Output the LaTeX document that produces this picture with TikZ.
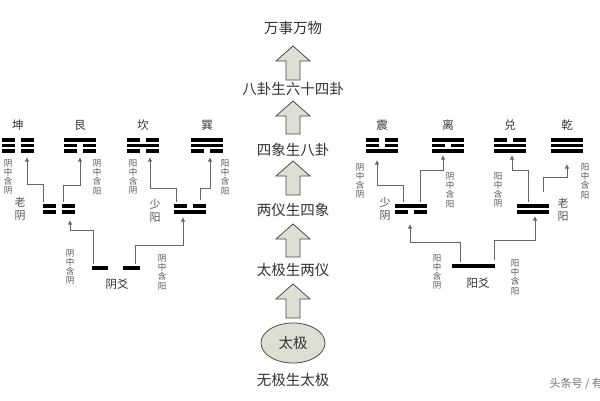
\documentclass[tikz,border=0pt]{standalone}
\usepackage{fontspec}
\newfontfamily\cjk{Noto Sans CJK SC}
\usetikzlibrary{arrows.meta,shapes.geometric}
\definecolor{arrfill}{HTML}{DEDED2}
\definecolor{ink}{HTML}{333333}
\tikzset{
 title/.style={font=\cjk\fontsize{14.5}{14.5}\selectfont,text=ink,inner sep=1pt},
 gname/.style={font=\cjk\fontsize{11.5}{11.5}\selectfont,text=ink,inner sep=1pt},
 vlab/.style={font=\cjk\fontsize{8.5}{9.3}\selectfont,text=ink!85,align=center,inner sep=0pt},
 conn/.style={draw=black!60,line width=1pt,-{Latex[length=4.5pt,width=4.5pt]}},
 bigarr/.style={draw=black!70,fill=arrfill,line width=0.8pt,line join=miter},
 yao/.style={line width=3.2pt,black},
}
% hollow arrow: #1 x, #2 y bottom, #3 y tip
\newcommand\bigarrow[3]{\filldraw[bigarr] (#1-7,#2) -- (#1-7,#3+15) -- (#1-17,#3+15) -- (#1,#3) -- (#1+17,#3+15) -- (#1+7,#3+15) -- (#1+7,#2) -- cycle;}
\newcommand\myyang[3]{\draw[yao] (#1-#3,#2) -- (#1+#3,#2);}
\newcommand\myyin[3]{\draw[yao] (#1-#3,#2) -- (#1-0.2*#3,#2); \draw[yao] (#1+0.2*#3,#2) -- (#1+#3,#2);}
\newcommand\gua[5]{%
 \ifnum#3=1 \myyang{#1}{#2}{16}\else\myyin{#1}{#2}{16}\fi
 \ifnum#4=1 \myyang{#1}{#2+5.5}{16}\else\myyin{#1}{#2+5.5}{16}\fi
 \ifnum#5=1 \myyang{#1}{#2+11}{16}\else\myyin{#1}{#2+11}{16}\fi}
\newcommand\xiang[4]{%
 \ifnum#3=1 \myyang{#1}{#2}{16}\else\myyin{#1}{#2}{16}\fi
 \ifnum#4=1 \myyang{#1}{#2+6}{16}\else\myyin{#1}{#2+6}{16}\fi}
\begin{document}
\begin{tikzpicture}[x=1pt,y=-1pt]
\useasboundingbox[fill=white] (0,0) rectangle (600,400);
\node[title] (t1) at (293,28) {万事万物};
\node[title] (t2) at (293,89) {八卦生六十四卦};
\node[title] (t3) at (293,150) {四象生八卦};
\node[title] (t4) at (293,210) {两仪生四象};
\node[title] (t5) at (293,270) {太极生两仪};
\node[title] (t6) at (293,380) {无极生太极};
\node[ellipse,draw=black!70,fill=arrfill,line width=0.8pt,minimum width=64pt,minimum height=40pt,title] (tj) at (293,343) {太极};
\bigarrow{293}{80}{46}
\bigarrow{293}{134}{101}
\bigarrow{293}{195}{161}
\bigarrow{293}{257}{224}
\bigarrow{293}{318}{284}
\foreach \n/\x in {坤/18,艮/80,坎/143,巽/207,震/382,离/448,兑/510,乾/567}
 \node[gname] (n\x) at (\x,125) {\n};
\gua{18}{140}{0}{0}{0}
\gua{80}{140}{1}{0}{0}
\gua{143}{140}{0}{1}{0}
\gua{207}{140}{1}{1}{0}
\gua{382}{140}{0}{0}{1}
\gua{448}{140}{1}{0}{1}
\gua{510}{140}{0}{1}{1}
\gua{567}{140}{1}{1}{1}
\xiang{59}{206}{0}{0}
\xiang{190}{206}{0}{1}
\xiang{411}{206}{1}{0}
\xiang{533}{206}{1}{1}
\node[vlab,font=\cjk\fontsize{11}{12.5}\selectfont] (l1) at (20,209) {老\\阴};
\node[vlab,font=\cjk\fontsize{11}{12.5}\selectfont] (l2) at (155,211) {少\\阳};
\node[vlab,font=\cjk\fontsize{11}{12.5}\selectfont] (l3) at (385,209) {少\\阴};
\node[vlab,font=\cjk\fontsize{11}{12.5}\selectfont] (l4) at (563,210) {老\\阳};
\draw[yao] (92,268) -- (108,268); \draw[yao] (123,268) -- (140,268);
\draw[yao] (452,266) -- (495,266);
\node[gname] (yin) at (117,284) {阴爻};
\node[gname] (yang) at (478,283) {阳爻};
\draw[conn] (93,264) |- (70,230) -- (70,220);
\draw[conn] (135,264) |- (183,245) -- (183,217);
\draw[conn] (460,262) |- (410,242) -- (410,224);
\draw[conn] (494,260) |- (535,240) -- (535,216);
\draw[conn] (43,202) |- (27,184) -- (27,157);
\draw[conn] (63,202) |- (80,185) -- (80,157);
\draw[conn] (176,202) |- (150,188) -- (150,157);
\draw[conn] (200,200) |- (210,188) -- (210,157);
\draw[conn] (403,202) |- (377,185) -- (377,160);
\draw[conn] (420,202) |- (443,170) -- (443,155);
\draw[conn] (528,202) |- (512,170) -- (512,155);
\draw[conn] (543,192) |- (567,177) -- (567,164);
\foreach \x/\y/\a/\b in {70/267/阴/阴,162/272/阴/阳,437/272/阳/阴,515/277/阳/阳,
 8/177/阴/阴,97/177/阴/阳,133/177/阳/阴,225/177/阳/阳,
 360/181/阴/阴,450/190/阴/阳,498/190/阳/阴,585/181/阳/阳}
{\node[vlab] at (\x,\y) {\a\\中\\含\\\b};}
\node[font=\cjk\fontsize{11}{11}\selectfont,text=black!55,anchor=west] (wm) at (546,384) {头条号 / 有};
\end{tikzpicture}
\end{document}
